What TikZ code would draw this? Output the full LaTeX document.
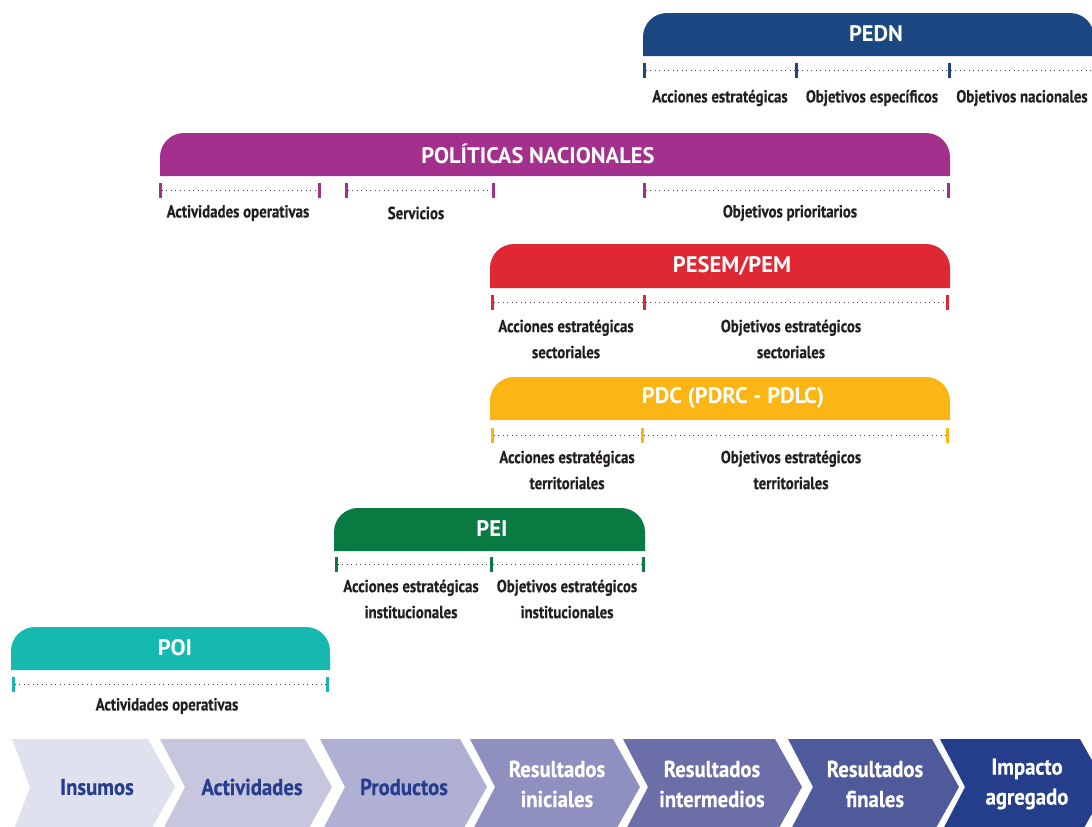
\documentclass[tikz,border=0pt]{standalone}
\usepackage{fontspec}
\setmainfont{PT Sans}
\newfontfamily\condf[FakeStretch=0.85,FakeBold=0.4]{PT Sans}
\newfontfamily\chevf[FakeStretch=0.9,FakeBold=0.4]{PT Sans}
\newfontfamily\hdrf[FakeStretch=1.0]{PT Sans}
\definecolor{cPEDN}{HTML}{1B4882}
\definecolor{cPOL}{HTML}{A2308C}
\definecolor{cPESEM}{HTML}{DF2833}
\definecolor{cPDC}{HTML}{FBB616}
\definecolor{cPEI}{HTML}{097B42}
\definecolor{cPOI}{HTML}{16B9B0}
\definecolor{ctext}{HTML}{231F20}
\definecolor{cdark}{HTML}{263E8D}
\definecolor{ch1}{HTML}{DFE1EF}
\definecolor{ch2}{HTML}{C6C6DF}
\definecolor{ch3}{HTML}{AFB0D3}
\definecolor{ch4}{HTML}{8F8FC0}
\definecolor{ch5}{HTML}{6C6EA8}
\definecolor{ch6}{HTML}{4F5A9B}
\definecolor{ch7}{HTML}{253E8C}
\newcommand\mkhdr[5]{\fill[#1] (#2,-#5) -- (#2,{-#4-24}) arc[start angle=180,end angle=90,radius=24pt] -- ({#3-24},-#4) arc[start angle=90,end angle=0,radius=24pt] -- (#3,-#5) -- cycle;}
\newcommand\mkchev[4]{\fill[#1] (#2,-739) -- (#3,-739) -- ({#3+27},-787) -- (#3,-835) -- (#2,-835) -- ({#2+#4},-787) -- cycle;}
\begin{document}
\begin{tikzpicture}[x=1pt,y=1pt,
  hdrtext/.style={text=white, inner sep=0, font=\hdrf\bfseries\fontsize{22.5}{26}\selectfont},
  lbl/.style={text=ctext, align=center, inner sep=0, font=\condf\bfseries\fontsize{17.5}{26}\selectfont},
  chevtext/.style={align=center, inner sep=0, font=\chevf\bfseries\fontsize{23}{30}\selectfont},
  tick/.style={rectangle, inner sep=0, minimum width=3pt, minimum height=15pt},
  dots/.style={draw=black!75, line width=0.9pt, dash pattern=on 0.9pt off 3.6pt}]
\useasboundingbox (0,-827) rectangle (1092,0);
\clip (0,-827) rectangle (1092,0);
% ---- PEDN
\mkhdr{cPEDN}{643}{1094}{13}{56}
\node[hdrtext] (hPEDN) at (876,-34) {PEDN};
\node[tick,fill=cPEDN] (pe1) at (644,-70) {};
\node[tick,fill=cPEDN] (pe2) at (796,-70) {};
\node[tick,fill=cPEDN] (pe3) at (949,-70) {};
\coordinate (pe4) at (1094,-70);
\draw[dots] (pe1) -- (pe2) (pe2) -- (pe3) (pe3) -- (pe4);
\node[lbl] (lpe1) at (720,-98) {Acciones estratégicas};
\node[lbl] (lpe2) at (872,-98) {Objetivos específicos};
\node[lbl] (lpe3) at (1022,-98) {Objetivos nacionales};
% ---- POLITICAS NACIONALES
\mkhdr{cPOL}{160}{950}{133}{176}
\node[hdrtext] (hPOL) at (538,-154) {POLÍTICAS NACIONALES};
\node[tick,fill=cPOL] (po1) at (160,-190) {};
\node[tick,fill=cPOL] (po2) at (319,-190) {};
\node[tick,fill=cPOL] (po3) at (346,-190) {};
\node[tick,fill=cPOL] (po4) at (493,-190) {};
\node[tick,fill=cPOL] (po5) at (644,-190) {};
\node[tick,fill=cPOL] (po6) at (948,-190) {};
\draw[dots] (po1) -- (po2) (po3) -- (po4) (po5) -- (po6);
\node[lbl] (lpo1) at (238,-213) {Actividades operativas};
\node[lbl] (lpo2) at (416,-213) {Servicios};
\node[lbl] (lpo3) at (790,-213) {Objetivos prioritarios};
% ---- PESEM/PEM
\mkhdr{cPESEM}{490}{950}{244}{288}
\node[hdrtext] (hPESEM) at (732,-266) {PESEM/PEM};
\node[tick,fill=cPESEM] (ps1) at (492,-302) {};
\node[tick,fill=cPESEM] (ps2) at (644,-302) {};
\node[tick,fill=cPESEM] (ps3) at (947,-302) {};
\draw[dots] (ps1) -- (ps2) (ps2) -- (ps3);
\node[lbl] (lps1) at (566,-339) {Acciones estratégicas\\sectoriales};
\node[lbl] (lps2) at (791,-339) {Objetivos estratégicos\\sectoriales};
% ---- PDC
\mkhdr{cPDC}{490}{950}{377}{420}
\node[hdrtext] (hPDC) at (733,-398) {PDC (PDRC - PDLC)};
\node[tick,fill=cPDC] (pd1) at (492,-435) {};
\node[tick,fill=cPDC] (pd2) at (642,-435) {};
\node[tick,fill=cPDC] (pd3) at (947,-435) {};
\draw[dots] (pd1) -- (pd2) (pd2) -- (pd3);
\node[lbl] (lpd1) at (567,-470) {Acciones estratégicas\\territoriales};
\node[lbl] (lpd2) at (791,-470) {Objetivos estratégicos\\territoriales};
% ---- PEI
\mkhdr{cPEI}{334}{645}{508}{551}
\node[hdrtext] (hPEI) at (492,-529) {PEI};
\node[tick,fill=cPEI] (pi1) at (336,-564) {};
\node[tick,fill=cPEI] (pi2) at (491,-564) {};
\node[tick,fill=cPEI] (pi3) at (643,-564) {};
\draw[dots] (pi1) -- (pi2) (pi2) -- (pi3);
\node[lbl] (lpi1) at (411,-599) {Acciones estratégicas\\institucionales};
\node[lbl] (lpi2) at (567,-599) {Objetivos estratégicos\\institucionales};
% ---- POI
\mkhdr{cPOI}{11}{330}{627}{670}
\node[hdrtext] (hPOI) at (175,-648) {POI};
\node[tick,fill=cPOI] (pz1) at (13,-684) {};
\node[tick,fill=cPOI] (pz2) at (327,-684) {};
\draw[dots] (pz1) -- (pz2);
\node[lbl] (lpz1) at (167,-706) {Actividades operativas};
% ---- chevrons
\mkchev{ch1}{12}{148}{18}
\mkchev{ch2}{160}{305}{25}
\mkchev{ch3}{320}{460}{25}
\mkchev{ch4}{470}{613}{25}
\mkchev{ch5}{623}{775}{25}
\mkchev{ch6}{788}{932}{25}
\mkchev{ch7}{940}{1080}{25}
\node[chevtext,text=cdark] (c1) at (97,-787) {Insumos};
\node[chevtext,text=cdark] (c2) at (252,-787) {Actividades};
\node[chevtext,text=cdark] (c3) at (404,-787) {Productos};
\node[chevtext,text=white] (c4) at (557,-784) {Resultados\\iniciales};
\node[chevtext,text=white] (c5) at (712,-784) {Resultados\\intermedios};
\node[chevtext,text=white] (c6) at (875,-784) {Resultados\\finales};
\node[chevtext,text=white] (c7) at (1027,-784) {Impacto\\agregado};
\end{tikzpicture}
\end{document}
